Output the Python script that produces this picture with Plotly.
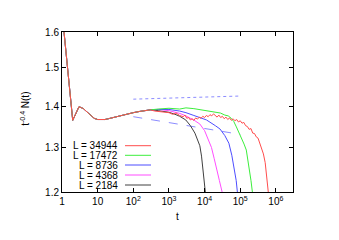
import plotly.graph_objects as go

# ---- data ----
series_names = ["L = 34944", "L = 17472", "L = 8736", "L = 4368", "L = 2184"]
series_colors = ["#ff4d4d", "#3cee3c", "#4d4dff", "#ff4dff", "#404040"]

t_early = [1, 2, 3, 4, 5, 6, 7, 8, 10, 13, 16, 20, 30, 50, 70, 100, 150, 200, 300]
n_early = [1.66, 1.365, 1.399, 1.394, 1.386, 1.379, 1.374, 1.370, 1.367, 1.366,
           1.367, 1.369, 1.373, 1.378, 1.381, 1.384, 1.387, 1.389, 1.391]

# red L=34944 (noisy), given as log10(t)
logt_red = [2.6, 2.8, 3.0, 3.1, 3.2, 3.3, 3.4, 3.45, 3.5, 3.55, 3.6, 3.65, 3.7, 3.75,
            3.8, 3.85, 3.9, 3.95, 4.0, 4.05, 4.1, 4.15, 4.2, 4.25, 4.3, 4.35, 4.4,
            4.45, 4.5, 4.55, 4.6, 4.65, 4.7, 4.75, 4.8, 4.85, 4.9, 4.95, 5.0, 5.05,
            5.1, 5.15, 5.2, 5.25, 5.3, 5.35, 5.4, 5.45, 5.5, 5.55, 5.6, 5.65, 5.7,
            5.74, 5.78, 5.8]
n_red = [1.388, 1.386, 1.384, 1.380, 1.383, 1.377, 1.374, 1.378, 1.370, 1.372, 1.366,
         1.369, 1.365, 1.371, 1.368, 1.373, 1.370, 1.375, 1.372, 1.377, 1.374, 1.379,
         1.376, 1.381, 1.377, 1.373, 1.378, 1.372, 1.375, 1.369, 1.373, 1.367, 1.371,
         1.365, 1.369, 1.364, 1.367, 1.361, 1.364, 1.358, 1.360, 1.352, 1.350, 1.343,
         1.345, 1.334, 1.333, 1.325, 1.322, 1.310, 1.299, 1.285, 1.265, 1.237, 1.200,
         1.190]

t_green = [500, 1000, 2000, 3000, 5000, 8000, 11300, 15000, 20000, 28000, 37000,
           46000, 56000, 66000, 78000, 92000, 107000, 128000, 148000, 165000,
           182000, 200000, 219000, 230000]
n_green = [1.393, 1.395, 1.393, 1.396, 1.394, 1.391, 1.389, 1.388, 1.386, 1.383,
           1.378, 1.376, 1.370, 1.362, 1.349, 1.336, 1.322, 1.308, 1.294, 1.272,
           1.249, 1.225, 1.200, 1.190]

t_blue = [500, 1000, 2000, 3000, 5000, 8000, 11300, 20000, 27000, 37000, 48000,
          58000, 70000, 77000, 83000, 88000]
n_blue = [1.392, 1.392, 1.388, 1.384, 1.377, 1.371, 1.366, 1.352, 1.344, 1.328,
          1.310, 1.282, 1.249, 1.225, 1.200, 1.190]

t_magenta = [500, 1000, 2030, 3000, 5350, 7350, 10000, 12600, 15600, 18500, 21600,
             26000, 31000, 33000]
n_magenta = [1.392, 1.389, 1.382, 1.376, 1.364, 1.356, 1.340, 1.320, 1.300, 1.275,
             1.249, 1.225, 1.200, 1.190]

t_black = [500, 1000, 1470, 2000, 2960, 4000, 5350, 6500, 7350, 8200, 8900, 9700,
           10450, 11000]
n_black = [1.389, 1.385, 1.380, 1.375, 1.366, 1.352, 1.334, 1.318, 1.304, 1.280,
           1.250, 1.225, 1.200, 1.185]

# fit guide lines
fit_up_t = [100, 100000]
fit_up_n = [1.418, 1.426]
fit_lo_t = [100, 100000]
fit_lo_n = [1.374, 1.331]

x_tickvals = [1, 10, 100, 1000, 10000, 100000, 1000000]
x_ticktext = ["1", "10", "10<sup>2</sup>", "10<sup>3</sup>", "10<sup>4</sup>",
              "10<sup>5</sup>", "10<sup>6</sup>"]
y_tickvals = [1.2, 1.3, 1.4, 1.5, 1.6]
y_ticktext = ["1.2", "1.3", "1.4", "1.5", "1.6"]

# ---- build ----
tails_t = [[10 ** v for v in logt_red], t_green, t_blue, t_magenta, t_black]
tails_n = [n_red, n_green, n_blue, n_magenta, n_black]

fig = go.Figure()

fig.add_trace(go.Scatter(x=fit_up_t, y=fit_up_n, mode="lines",
                         line=dict(color="#8c8cff", width=1, dash="dot"),
                         showlegend=False, hoverinfo="skip"))
fig.add_trace(go.Scatter(x=fit_lo_t, y=fit_lo_n, mode="lines",
                         line=dict(color="#8c8cff", width=1, dash="dash"),
                         showlegend=False, hoverinfo="skip"))

for name, color, tt, nn in reversed(list(zip(series_names, series_colors, tails_t, tails_n))):
    xe = [t for t in t_early if t < tt[0]]
    ye = n_early[:len(xe)]
    fig.add_trace(go.Scatter(x=xe + list(tt), y=ye + list(nn), mode="lines",
                             name=name, line=dict(color=color, width=1),
                             showlegend=False))

font = dict(family="Liberation Sans, Arial, sans-serif", size=10, color="#000000")

# page body has an 8px margin, so the figure is 8px smaller and margins shifted
fig.update_layout(
    width=331, height=232,
    margin=dict(l=54, r=46, t=24, b=48),
    paper_bgcolor="white", plot_bgcolor="white",
    font=font,
    showlegend=False,
    xaxis=dict(type="log", range=[0, 6.48], tickvals=x_tickvals, ticktext=x_ticktext,
               ticks="inside", ticklen=4, tickcolor="black", showline=True,
               linecolor="black", linewidth=1, mirror="ticks", showgrid=False,
               zeroline=False, tickfont=font),
    yaxis=dict(type="log", range=[0.0791812, 0.2041200], tickvals=y_tickvals,
               ticktext=y_ticktext, ticks="inside", ticklen=4, tickcolor="black",
               showline=True, linecolor="black", linewidth=1, mirror="ticks",
               showgrid=False, zeroline=False, tickfont=font),
)

# axis titles
fig.add_annotation(text="t", xref="paper", yref="paper", x=0.498, y=-0.156,
                   showarrow=False, font=font, xanchor="center", yanchor="middle")
fig.add_annotation(text="t<sup>-0.4</sup> N(t)", xref="paper", yref="paper",
                   x=(25 - 62) / 231, y=0.52, textangle=-90, showarrow=False,
                   font=font, xanchor="center", yanchor="middle")

# gnuplot-style key: text right-aligned, sample on the right
key_y_px = [145.7, 155.3, 165.0, 175.0, 185.0]
for name, color, ypx in zip(series_names, series_colors, key_y_px):
    yp = (192 - ypx) / 160
    fig.add_annotation(text=name, xref="paper", yref="paper",
                       x=(120 - 62) / 231, y=yp, xanchor="right", yanchor="middle",
                       showarrow=False, font=font)
    fig.add_shape(type="line", xref="paper", yref="paper",
                  x0=(125 - 62) / 231, x1=(151 - 62) / 231, y0=yp, y1=yp,
                  line=dict(color=color, width=1))

fig.write_html("out.html")
